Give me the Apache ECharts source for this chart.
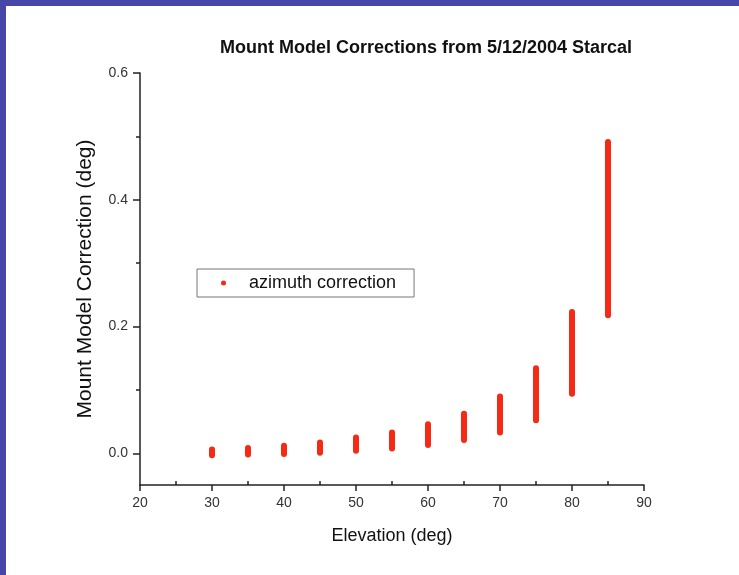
<!DOCTYPE html>
<html>
<head>
<meta charset="utf-8">
<script src="https://cdn.jsdelivr.net/npm/echarts@6/dist/echarts.min.js"></script>
<style>
  html, body { margin: 0; padding: 0; background: #fff; }
  #frame {
    position: absolute; left: 0; top: 0; width: 739px; height: 575px;
    box-sizing: border-box; border-left: 6px solid #4546a8; border-top: 6px solid #4546a8;
  }
  #chart { position: absolute; left: 0; top: 0; width: 739px; height: 575px; }
</style>
</head>
<body>
<div id="chart"></div>
<div id="frame"></div>
<script>
// elevation columns and the spread of corrections at each (deg)
const elevation = [30, 35, 40, 45, 50, 55, 60, 65, 70, 75, 80, 85]
const corrMin = [-0.003, -0.002, -0.001, 0.001, 0.004, 0.0075, 0.013, 0.021, 0.033, 0.052, 0.094, 0.218]
const corrMax = [0.006, 0.0085, 0.012, 0.017, 0.025, 0.033, 0.046, 0.0625, 0.0895, 0.134, 0.223, 0.491]

// axis ticks
const xTicks = [20, 30, 40, 50, 60, 70, 80, 90]
const xMinorTicks = [25, 35, 45, 55, 65, 75, 85]
const yTicks = [0, 0.2, 0.4, 0.6]
const yMinorTicks = [0.1, 0.3, 0.5]

const red = '#f52a14'
const font = "'Liberation Sans', Arial, sans-serif"

const chart = echarts.init(document.getElementById('chart'))

const option = {
  animation: false,
  backgroundColor: '#fff',
  title: {
    text: 'Mount Model Corrections from 5/12/2004 Starcal',
    left: 215,
    top: 34,
    textStyle: { fontSize: 18, fontWeight: 'bold', color: '#111', fontFamily: font }
  },
  legend: {
    left: 197,
    top: 269,
    orient: 'vertical',
    data: [{ name: 'azimuth correction', icon: 'circle' }],
    itemWidth: 5,
    itemHeight: 5,
    itemGap: 5,
    padding: [5, 18, 5, 24],
    borderColor: '#777',
    borderWidth: 1,
    textStyle: { fontSize: 18, color: '#111', fontFamily: font, padding: [0, 0, 0, 18] }
  },
  grid: { left: 140, right: 95, top: 73, bottom: 90 },
  xAxis: [
    {
      type: 'value',
      min: 20,
      max: 90,
      name: 'Elevation (deg)',
      nameLocation: 'middle',
      nameGap: 42,
      nameTextStyle: { fontSize: 18, color: '#111', fontFamily: font },
      axisLine: { onZero: false, lineStyle: { color: '#222', width: 1.5 } },
      axisTick: { customValues: xTicks, length: 6, lineStyle: { color: '#222', width: 1.5 } },
      axisLabel: { customValues: xTicks, fontSize: 14, color: '#333', margin: 11, fontFamily: font },
      splitLine: { show: false }
    },
    {
      type: 'value',
      min: 20,
      max: 90,
      position: 'bottom',
      axisLine: { show: false, onZero: false },
      axisTick: { customValues: xMinorTicks, inside: true, length: 4, lineStyle: { color: '#222', width: 1.5 } },
      axisLabel: { show: false },
      splitLine: { show: false }
    }
  ],
  yAxis: [
    {
      type: 'value',
      min: -0.05,
      max: 0.6,
      name: 'Mount Model Correction (deg)',
      nameLocation: 'middle',
      nameGap: 44,
      nameTextStyle: { fontSize: 21, color: '#111', fontFamily: font },
      axisLine: { show: true, onZero: false, lineStyle: { color: '#222', width: 1.5 } },
      axisTick: { show: true, customValues: yTicks, length: 7, lineStyle: { color: '#222', width: 1.5 } },
      axisLabel: {
        customValues: yTicks,
        fontSize: 14,
        color: '#333',
        margin: 12,
        fontFamily: font,
        formatter: v => v.toFixed(1)
      },
      splitLine: { show: false }
    },
    {
      type: 'value',
      min: -0.05,
      max: 0.6,
      position: 'left',
      axisLine: { show: false, onZero: false },
      axisTick: { show: true, customValues: yMinorTicks, length: 4, lineStyle: { color: '#222', width: 1.5 } },
      axisLabel: { show: false },
      splitLine: { show: false }
    }
  ],
  series: [
    {
      name: 'azimuth correction',
      type: 'custom',
      xAxisIndex: 0,
      yAxisIndex: 0,
      itemStyle: { color: red },
      encode: { x: 0, y: [1, 2] },
      data: elevation.map((e, i) => [e, corrMin[i], corrMax[i]]),
      renderItem: (params, api) => {
        const x = api.value(0)
        const p1 = api.coord([x, api.value(1)])
        const p2 = api.coord([x, api.value(2)])
        return {
          type: 'line',
          shape: { x1: p1[0], y1: p1[1], x2: p2[0], y2: p2[1] },
          style: { stroke: red, lineWidth: 6, lineCap: 'round' }
        }
      }
    }
  ]
}

chart.setOption(option)
</script>
</body>
</html>
